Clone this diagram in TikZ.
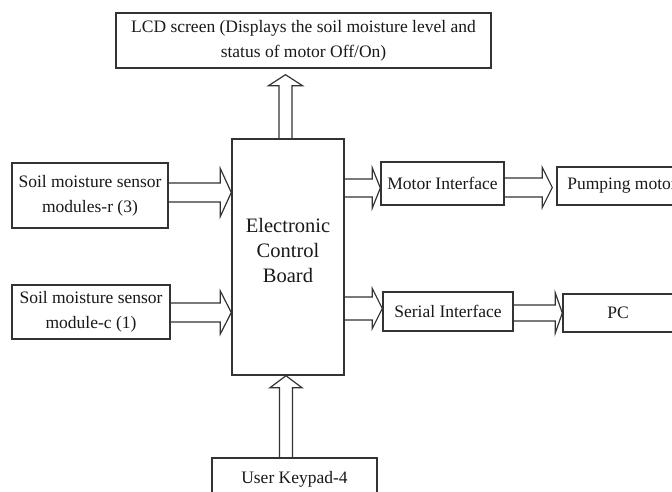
\documentclass[tikz,border=0pt]{standalone}
\usepackage{fontspec}
\setmainfont{Liberation Serif}
\usetikzlibrary{calc}

% horizontal block arrow: tail, tip, y, shaft half-width, head half-width, head length
\newcommand\harr[6]{%
  \coordinate (hT) at (#1 |- 0,-#3);
  \coordinate (hP) at (#2 |- 0,-#3);
  \draw[flow] ($(hT)+(0,#4)$) -- ($(hP)+(-#6,#4)$) -- ($(hP)+(-#6,#5)$) -- (hP)
    -- ($(hP)+(-#6,-#5)$) -- ($(hP)+(-#6,-#4)$) -- ($(hT)+(0,-#4)$);}
% upward block arrow: tail, tip, x, shaft half-width, head half-width, head length
\newcommand\varr[6]{%
  \coordinate (vT) at (#3,0 |- #1);
  \coordinate (vP) at (#3,0 |- #2);
  \draw[flow] ($(vT)+(-#4,0)$) -- ($(vP)+(-#4,-#6)$) -- ($(vP)+(-#5,-#6)$) -- (vP)
    -- ($(vP)+(#5,-#6)$) -- ($(vP)+(#4,-#6)$) -- ($(vT)+(#4,0)$);}

\tikzset{
  blk/.style={draw=black!80, line width=1.4pt, fill=white, inner sep=0pt,
    align=center, text=black!90, font=\fontsize{17.5}{25}\selectfont},
  flow/.style={draw=black!80, line width=1.2pt, line join=miter},
}

\begin{document}
\begin{tikzpicture}[x=1pt, y=1pt]
\useasboundingbox (0,0) rectangle (672,-492);
\clip (0,0) rectangle (672,-492);

% blocks
\node[blk, minimum width=375pt, minimum height=55pt] (lcd) at (303.5,-40.5)
  {LCD screen (Displays the soil moisture level and\\status of motor Off/On)};
\node[blk, minimum width=112pt, minimum height=236pt] (ecb) at (288,-257) {};
\node[align=center, text=black!90, font=\fontsize{20.5}{25}\selectfont] (ecbtxt) at (288,-250)
  {Electronic\\Control\\Board};
\node[blk, minimum width=156pt, minimum height=65pt] (soilr) at (90,-195.5)
  {Soil moisture sensor\\modules-r (3)};
\node[blk, minimum width=158pt, minimum height=54pt] (soilc) at (91,-312)
  {Soil moisture sensor\\module-c (1)};
\node[blk, minimum width=123pt, minimum height=43pt] (mi) at (442.5,-183.5) {Motor Interface};
\node[blk, minimum width=130pt, minimum height=38pt] (pump) at (622,-186) {Pumping motor};
\node[blk, minimum width=130pt, minimum height=39pt] (si) at (448,-311.5) {Serial Interface};
\node[blk, minimum width=110pt, minimum height=38pt] (pc) at (618,-313) {PC};
\node[blk, minimum width=165pt, minimum height=42pt] (key) at (294.5,-479) {User Keypad-4};

% arrow tips that stop short of their block
\coordinate (pumpin) at ($(pump.west)+(-4,0)$);
\coordinate (lcdin) at ($(lcd.south)+(0,-6)$);

% connectors
\harr{soilr.east}{ecb.west}{192.5}{9.5}{24}{11}
\harr{soilc.east}{ecb.west}{312.5}{9.5}{21.5}{11}
\harr{ecb.east}{mi.west}{188}{9}{20}{8}
\harr{mi.east}{pumpin}{187.5}{9.5}{20}{10}
\harr{ecb.east}{si.west}{308.5}{11.5}{20}{10}
\harr{si.east}{pc.west}{313}{8}{20}{7}
\varr{ecb.north}{lcdin}{285.5}{6.5}{17}{11}
\varr{key.north}{ecb.south}{286}{6.5}{16}{12}
\end{tikzpicture}
\end{document}
